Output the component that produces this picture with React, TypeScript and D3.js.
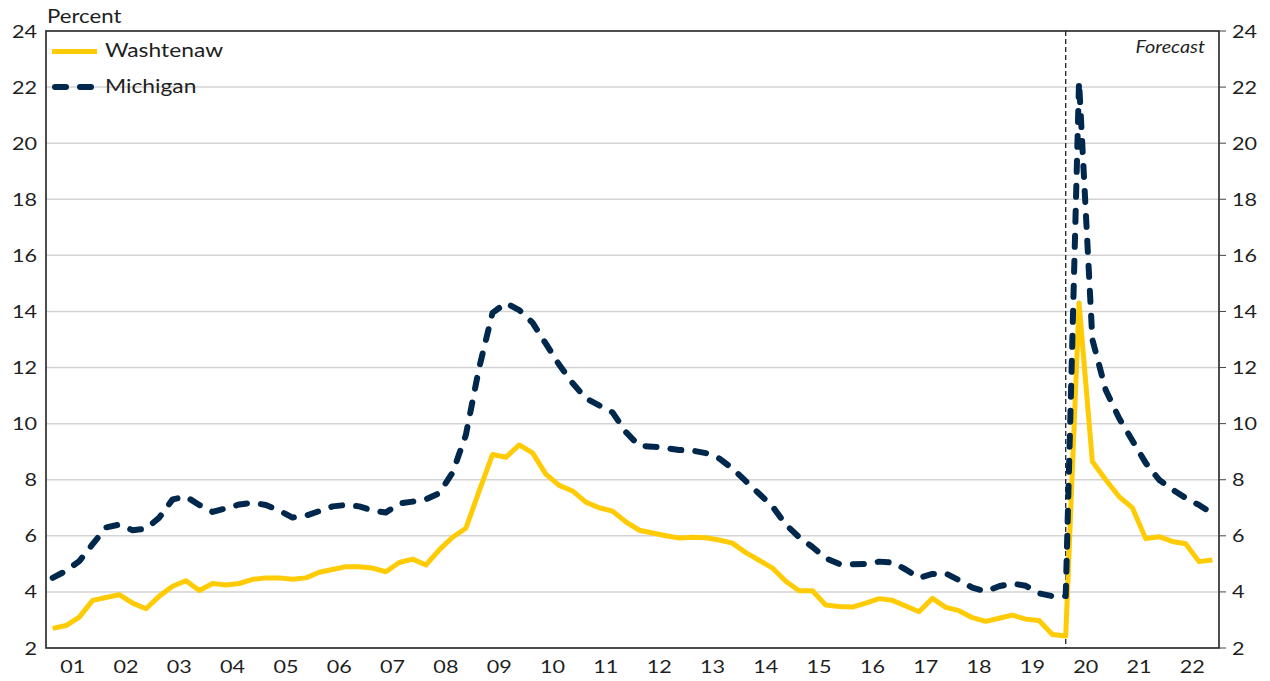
import React from "react";
import * as d3 from "d3";

// Quarterly unemployment rate, 2001 Q1 – 2022 Q4 (percent)
const years = ["01", "02", "03", "04", "05", "06", "07", "08", "09", "10", "11", "12", "13", "14", "15", "16", "17", "18", "19", "20", "21", "22"];

const washtenaw = [
  2.7, 2.8, 3.1, 3.7,
  3.8, 3.9, 3.6, 3.4,
  3.85, 4.2, 4.4, 4.05,
  4.3, 4.25, 4.3, 4.45,
  4.5, 4.5, 4.45, 4.5,
  4.7, 4.8, 4.9, 4.9,
  4.85, 4.72, 5.05, 5.17,
  4.96, 5.5, 5.95, 6.27,
  7.6, 8.9, 8.8, 9.24,
  8.96, 8.2, 7.8, 7.6,
  7.2, 7.0, 6.88, 6.5,
  6.2, 6.1, 6.0, 5.92,
  5.95, 5.93, 5.85, 5.74,
  5.4, 5.13, 4.85, 4.38,
  4.04, 4.04, 3.53, 3.48,
  3.46, 3.6, 3.76, 3.7,
  3.5, 3.29, 3.77, 3.45,
  3.33, 3.08, 2.95, 3.06,
  3.17, 3.03, 2.98, 2.48,
  2.43, 14.3, 8.65, 8.0,
  7.4, 7.0, 5.9, 5.97,
  5.8, 5.72, 5.08, 5.14,
];

const michigan = [
  4.5, 4.75, 5.1, 5.7,
  6.3, 6.4, 6.2, 6.25,
  6.65, 7.3, 7.4, 7.1,
  6.85, 6.98, 7.12, 7.18,
  7.1, 6.9, 6.65, 6.72,
  6.88, 7.05, 7.1, 7.05,
  6.9, 6.83, 7.15, 7.22,
  7.3, 7.52, 8.25, 9.6,
  12.0, 13.95, 14.3, 14.05,
  13.6, 12.85, 12.1, 11.45,
  10.9, 10.65, 10.4, 9.7,
  9.21, 9.18, 9.13, 9.06,
  9.04, 8.95, 8.76, 8.4,
  7.95, 7.5, 7.05, 6.4,
  5.95, 5.6, 5.2, 5.0,
  4.99, 5.0, 5.08, 5.05,
  4.8, 4.5, 4.64, 4.66,
  4.42, 4.15, 4.02, 4.2,
  4.3, 4.22, 3.95, 3.85,
  3.85, 22.2, 13.0, 11.2,
  10.2, 9.4, 8.6, 8.0,
  7.65, 7.35, 7.1, 6.8,
];

const yTicks = [2, 4, 6, 8, 10, 12, 14, 16, 18, 20, 22, 24];
const forecastStart = 76; // 2020 Q1

const W = 1270;
const H = 681;
const left = 46;
const right = 1219;
const top = 31;
const bottom = 648;

const MAIZE = "#FFCB05";
const BLUE = "#00274C";
const INK = "#1f1f1f";
const FONT = "Lato, 'Open Sans', sans-serif";
const SX = 1.2;

function Label(props: {
  x: number;
  y: number;
  size: number;
  anchor?: "start" | "middle" | "end";
  italic?: boolean;
  children: React.ReactNode;
}) {
  const { x, y, size, anchor = "start", italic = false, children } = props;
  return (
    <text
      transform={`translate(${x},${y}) scale(${SX},1)`}
      textAnchor={anchor}
      fontFamily={FONT}
      fontSize={size}
      fontStyle={italic ? "italic" : "normal"}
      fill={INK}
    >
      {children}
    </text>
  );
}

export default function App() {
  const n = washtenaw.length;
  const x = d3.scaleLinear().domain([0, n]).range([left, right]);
  const y = d3.scaleLinear().domain([2, 24]).range([bottom, top]);

  const line = d3
    .line<number>()
    .x((_, i) => x(i + 0.5))
    .y((d) => y(d));

  const forecastX = x(forecastStart + 0.5);

  return (
    <svg
      width={W}
      height={H}
      style={{ position: "absolute", left: 0, top: 0, display: "block", background: "#fff" }}
    >
      {/* horizontal gridlines */}
      {yTicks
        .filter((t) => t > 2 && t < 24)
        .map((t) => (
          <line key={t} x1={left} x2={right} y1={y(t)} y2={y(t)} stroke="#d3d3d3" strokeWidth={1.5} />
        ))}

      {/* forecast divider */}
      <line
        x1={forecastX}
        x2={forecastX}
        y1={top}
        y2={bottom}
        stroke="#222"
        strokeWidth={1.3}
        strokeDasharray="5 3"
      />

      {/* series */}
      <path d={line(washtenaw) || ""} fill="none" stroke={MAIZE} strokeWidth={5} strokeLinejoin="round" />
      <path
        d={line(michigan) || ""}
        fill="none"
        stroke={BLUE}
        strokeWidth={6}
        strokeDasharray="11 14"
        strokeLinecap="round"
        strokeLinejoin="round"
      />

      {/* plot frame */}
      <rect x={left} y={top} width={right - left} height={bottom - top} fill="none" stroke="#222" strokeWidth={1.6} />

      {/* left axis labels */}
      {yTicks.map((t) => (
        <Label key={`l${t}`} x={37} y={y(t) + 6.5} size={18} anchor="end">
          {t}
        </Label>
      ))}

      {/* right axis ticks and labels */}
      {yTicks.map((t) => (
        <g key={`r${t}`}>
          <line x1={right} x2={right + 7} y1={y(t)} y2={y(t)} stroke="#444" strokeWidth={1} />
          <Label x={1232} y={y(t) + 6.5} size={18}>
            {t}
          </Label>
        </g>
      ))}

      {/* year labels */}
      {years.map((yr, k) => (
        <Label key={yr} x={x(k * 4 + 2)} y={673} size={18} anchor="middle">
          {yr}
        </Label>
      ))}

      <Label x={47} y={23} size={18.5}>
        Percent
      </Label>

      <Label x={1205} y={53} size={16.5} anchor="end" italic>
        Forecast
      </Label>

      {/* legend */}
      <line x1={52} x2={97} y1={51.5} y2={51.5} stroke={MAIZE} strokeWidth={5} />
      <Label x={105} y={57} size={19}>
        Washtenaw
      </Label>
      <line
        x1={55}
        x2={93}
        y1={87}
        y2={87}
        stroke={BLUE}
        strokeWidth={6}
        strokeDasharray="11 14"
        strokeLinecap="round"
      />
      <Label x={105} y={93} size={19}>
        Michigan
      </Label>
    </svg>
  );
}
